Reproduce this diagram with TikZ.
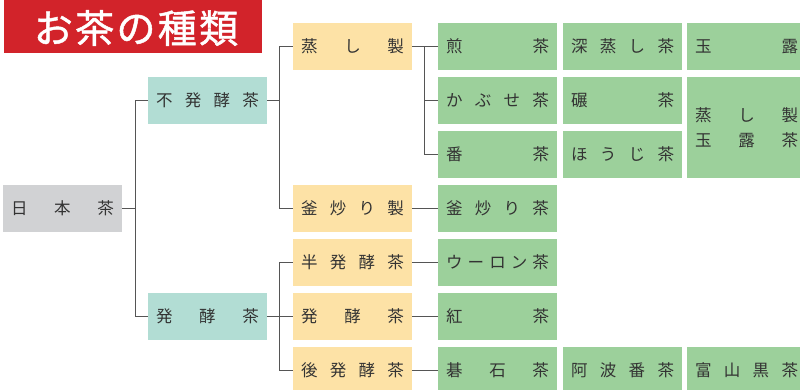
\documentclass[tikz,border=0pt]{standalone}
\usepackage{fontspec}
\setmainfont{Noto Sans CJK JP}
\newfontfamily\titlefont{Noto Sans CJK JP}[FakeBold=1.2, LetterSpace=6]
\definecolor{titlered}{HTML}{D2232A}
\definecolor{rootgray}{HTML}{D1D2D4}
\definecolor{teal}{HTML}{B2DDD4}
\definecolor{peach}{HTML}{FDE2A6}
\definecolor{leaf}{HTML}{9CD09B}
\definecolor{txt}{HTML}{333333}
\definecolor{ln}{HTML}{555555}
\newcommand\jt[1]{\hbox to 103pt{#1}}
\tikzset{
  x=1pt, y=-1pt,
  box/.style={minimum width=119pt, minimum height=47pt, inner sep=0pt, text=txt,
    font=\fontsize{16.5}{25}\selectfont, align=center},
  rootbox/.style={box, fill=rootgray},
  catbox/.style={box, fill=teal},
  procbox/.style={box, fill=peach},
  teabox/.style={box, fill=leaf},
  conn/.style={draw=ln, line width=1.1pt}
}
\begin{document}
\begin{tikzpicture}
\useasboundingbox (0,0) rectangle (800,389);
\begin{scope}
\clip (0,0) rectangle (800,389);
% title
\node[fill=titlered, minimum width=258pt, minimum height=53pt, inner sep=0pt] (title) at (133,26.5) {};
\node[text=white, inner sep=0pt, font=\titlefont\fontsize{39}{40}\selectfont] (titletext) at (136,28) {お茶の種類};
% root
\node[rootbox] (jp) at (62.5,208.5) {\jt{日\hfill 本\hfill 茶}};
% level 1
\node[catbox] (fu) at (207.5,100.5) {\jt{不\hfill 発\hfill 酵\hfill 茶}};
\node[catbox] (ha) at (207.5,316.5) {\jt{発\hfill 酵\hfill 茶}};
% level 2
\node[procbox] (mu) at (352.5,46.5) {\jt{蒸\hfill し\hfill 製}};
\node[procbox] (ka) at (352.5,208.5) {\jt{釜\hfill 炒\hfill り\hfill 製}};
\node[procbox] (han) at (352.5,262.5) {\jt{半\hfill 発\hfill 酵\hfill 茶}};
\node[procbox] (hk) at (352.5,316.5) {\jt{発\hfill 酵\hfill 茶}};
\node[procbox] (ato) at (352.5,370.5) {\jt{後\hfill 発\hfill 酵\hfill 茶}};
% teas col 1
\node[teabox] (sen) at (497.5,46.5) {\jt{煎\hfill 茶}};
\node[teabox] (kab) at (497.5,100.5) {\jt{か\hfill ぶ\hfill せ\hfill 茶}};
\node[teabox] (ban) at (497.5,154.5) {\jt{番\hfill 茶}};
\node[teabox] (kam) at (497.5,208.5) {\jt{釜\hfill 炒\hfill り\hfill 茶}};
\node[teabox] (oo) at (497.5,262.5) {\jt{ウ\hfill ー\hfill ロ\hfill ン\hfill 茶}};
\node[teabox] (ko) at (497.5,316.5) {\jt{紅\hfill 茶}};
\node[teabox] (go) at (497.5,370.5) {\jt{碁\hfill 石\hfill 茶}};
% teas col 2
\node[teabox] (fuk) at (622.5,46.5) {\jt{深\hfill 蒸\hfill し\hfill 茶}};
\node[teabox] (ten) at (622.5,100.5) {\jt{碾\hfill 茶}};
\node[teabox] (hou) at (622.5,154.5) {\jt{ほ\hfill う\hfill じ\hfill 茶}};
\node[teabox] (awa) at (622.5,370.5) {\jt{阿\hfill 波\hfill 番\hfill 茶}};
% teas col 3
\node[teabox] (gyo) at (746.5,46.5) {\jt{玉\hfill 露}};
\node[teabox, minimum height=101pt] (mgy) at (746.5,127.5) {\jt{蒸\hfill し\hfill 製}\\\jt{玉\hfill 露\hfill 茶}};
\node[teabox] (toy) at (746.5,370.5) {\jt{富\hfill 山\hfill 黒\hfill 茶}};
% connectors
\draw[conn] (jp.east) -- ++(13,0) |- (fu.west);
\draw[conn] (jp.east) -- ++(13,0) |- (ha.west);
\draw[conn] (fu.east) -- ++(12,0) |- (mu.west);
\draw[conn] (fu.east) -- ++(12,0) |- (ka.west);
\draw[conn] (ha.east) -- ++(12,0) |- (han.west);
\draw[conn] (ha.east) -- ++(12,0) |- (hk.west);
\draw[conn] (ha.east) -- ++(12,0) |- (ato.west);
\draw[conn] (mu.east) -- (sen.west);
\draw[conn] (mu.east) -- ++(12,0) |- (kab.west);
\draw[conn] (mu.east) -- ++(12,0) |- (ban.west);
\draw[conn] (ka.east) -- (kam.west);
\draw[conn] (han.east) -- (oo.west);
\draw[conn] (hk.east) -- (ko.west);
\draw[conn] (ato.east) -- (go.west);
\end{scope}
\end{tikzpicture}
\end{document}
